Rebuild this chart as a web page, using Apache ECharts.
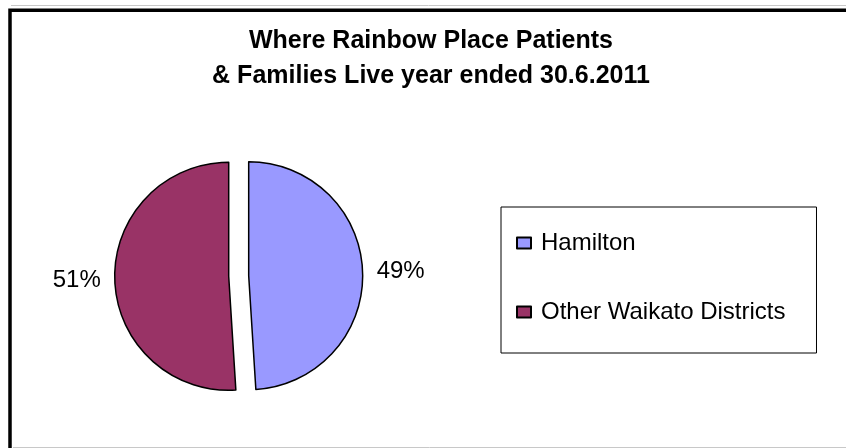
<!DOCTYPE html>
<html>
<head>
<meta charset="utf-8">
<script src="https://cdn.jsdelivr.net/npm/echarts@6/dist/echarts.min.js"></script>
<style>
html,body{margin:0;padding:0;background:#fff;}
#chart{width:846px;height:448px;}
</style>
</head>
<body>
<div id="chart"></div>
<script>
const titleLines = ['Where Rainbow Place Patients', '& Families Live year ended 30.6.2011'];
const categories = ['Hamilton', 'Other Waikato Districts'];
const values = [49, 51];
const colors = ['#9999FF', '#993366'];

const chart = echarts.init(document.getElementById('chart'), null, {renderer: 'canvas'});
const option = {
  backgroundColor: '#ffffff',
  animation: false,
  title: {
    text: titleLines.join('\n'),
    left: 426,
    textAlign: 'center',
    top: 19,
    textStyle: {
      fontFamily: 'Liberation Sans, Arial, sans-serif',
      fontWeight: 'bold',
      fontSize: 25,
      lineHeight: 35,
      color: '#000'
    }
  },
  legend: {
    orient: 'vertical',
    left: 501,
    top: 207,
    padding: [24, 31, 29, 15],
    itemGap: 45,
    itemWidth: 14,
    itemHeight: 11,
    icon: 'rect',
    borderColor: '#000',
    borderWidth: 1,
    selectedMode: false,
    textStyle: {
      fontFamily: 'Liberation Sans, Arial, sans-serif',
      fontSize: 24,
      color: '#000',
      padding: [0, 0, 0, 5]
    },
    data: categories
  },
  graphic: [
    {type: 'line', shape: {x1: 11, y1: 5.5, x2: 846, y2: 5.5}, style: {stroke: '#c8c8c8', lineWidth: 1}, silent: true},
    {type: 'line', shape: {x1: 13, y1: 447.5, x2: 846, y2: 447.5}, style: {stroke: '#c8c8c8', lineWidth: 1}, silent: true},
    {type: 'rect', shape: {x: 10, y: 10.3, width: 900, height: 500}, style: {fill: 'none', stroke: '#000', lineWidth: 3.5}, silent: true}
  ],
  series: [{
    type: 'pie',
    center: [238.7, 276],
    radius: 114,
    startAngle: 90,
    clockwise: true,
    selectedMode: 'multiple',
    selectedOffset: 10,
    avoidLabelOverlap: false,
    emphasis: {disabled: true},
    itemStyle: {borderColor: '#000', borderWidth: 1.5},
    label: {
      show: true,
      position: 'outside',
      formatter: function (p) { return Math.round(p.percent) + '%'; },
      fontFamily: 'Liberation Sans, Arial, sans-serif',
      fontSize: 24,
      color: '#000'
    },
    labelLine: {show: false, length: 9, length2: 0},
    data: categories.map(function (c, i) {
      return {name: c, value: values[i], selected: true, itemStyle: {color: colors[i]}};
    })
  }]
};
chart.setOption(option);
</script>
</body>
</html>
